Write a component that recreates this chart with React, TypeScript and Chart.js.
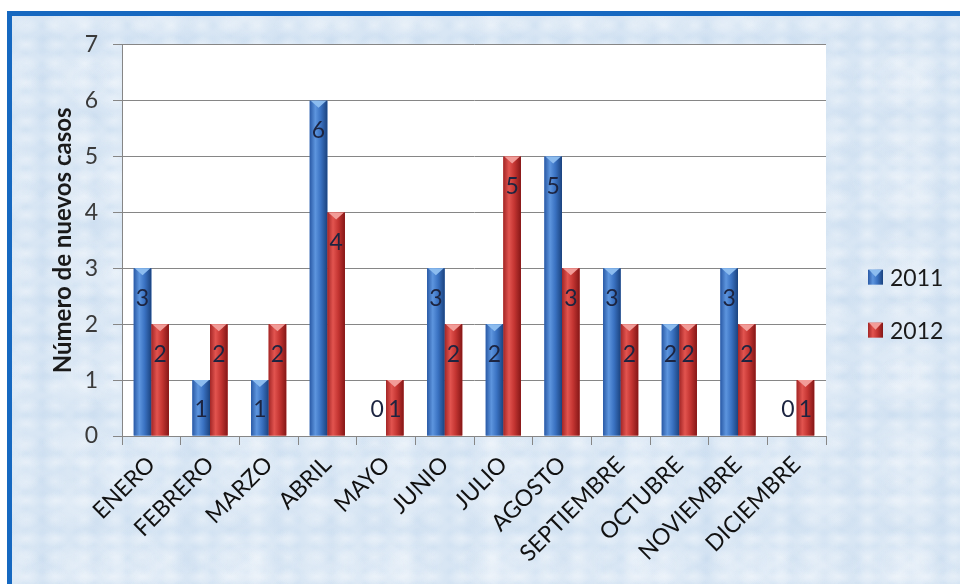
import React, { useEffect, useRef } from 'react';
import { Chart, registerables } from 'chart.js';

Chart.register(...registerables);

const months = ['ENERO', 'FEBRERO', 'MARZO', 'ABRIL', 'MAYO', 'JUNIO', 'JULIO', 'AGOSTO', 'SEPTIEMBRE', 'OCTUBRE', 'NOVIEMBRE', 'DICIEMBRE'];
const cases2011 = [3, 1, 1, 6, 0, 3, 2, 5, 3, 2, 3, 0];
const cases2012 = [2, 2, 2, 4, 1, 2, 5, 3, 2, 2, 2, 1];
const seriesNames = ['2011', '2012'];
const yMin = 0;
const yMax = 7;
const yStep = 1;
const yTitle = 'Número de nuevos casos';

const palettes = [
  { stops: ['#2a5aa6', '#5d95de', '#3a72c2', '#1b437f'], notch: '#8cbcef', solid: '#3a72c2' },
  { stops: ['#a32626', '#e2544f', '#c43532', '#851717'], notch: '#f29c98', solid: '#c43532' },
];

const FONT = 'Lato, "Open Sans", sans-serif';

function paintBar(ctx: CanvasRenderingContext2D, left: number, right: number, top: number, bottom: number, p: typeof palettes[0]) {
  const w = right - left;
  const h = bottom - top;
  if (h <= 0 || w <= 0) return;
  const g = ctx.createLinearGradient(left, 0, right, 0);
  g.addColorStop(0, p.stops[0]);
  g.addColorStop(0.32, p.stops[1]);
  g.addColorStop(0.62, p.stops[2]);
  g.addColorStop(1, p.stops[3]);
  ctx.fillStyle = g;
  ctx.fillRect(left, top, w, h);
  const nh = Math.min(7, h);
  ctx.beginPath();
  ctx.moveTo(left + 1, top);
  ctx.lineTo(right - 1, top);
  ctx.lineTo((left + right) / 2, top + nh);
  ctx.closePath();
  ctx.fillStyle = p.notch;
  ctx.fill();
}

const plotBg = {
  id: 'plotBg',
  beforeDraw(chart: any) {
    const { ctx, chartArea: a } = chart;
    ctx.save();
    ctx.fillStyle = '#ffffff';
    ctx.fillRect(a.left, a.top, a.right - a.left, a.bottom - a.top);
    ctx.restore();
  },
};

const barsPlugin = {
  id: 'barsPlugin',
  afterDatasetsDraw(chart: any) {
    const { ctx } = chart;
    ctx.save();
    chart.data.datasets.forEach((ds: any, di: number) => {
      const meta = chart.getDatasetMeta(di);
      meta.data.forEach((el: any) => {
        const { x, y, base, width } = el.getProps(['x', 'y', 'base', 'width'], true);
        paintBar(ctx, x - width / 2, x + width / 2, y, base, palettes[di]);
      });
    });
    chart.data.datasets.forEach((ds: any, di: number) => {
      const meta = chart.getDatasetMeta(di);
      meta.data.forEach((el: any, i: number) => {
        const { x, y, base } = el.getProps(['x', 'y', 'base'], true);
        const ly = Math.min(y + 30, base - 26);
        ctx.font = `23px ${FONT}`;
        ctx.fillStyle = '#1c2440';
        ctx.textAlign = 'center';
        ctx.textBaseline = 'middle';
        ctx.fillText(String(ds.data[i]), x, ly);
      });
    });
    ctx.restore();
  },
};

const legendPlugin = {
  id: 'customLegend',
  afterDraw(chart: any) {
    const { ctx, chartArea: a } = chart;
    ctx.save();
    const h = a.bottom - a.top;
    chart.data.datasets.forEach((ds: any, di: number) => {
      const cy = a.top + h * 0.594 + di * 53;
      const mx = a.right + 42;
      paintBar(ctx, mx, mx + 15, cy - 7.5, cy + 7.5, palettes[di]);
      ctx.font = `23px ${FONT}`;
      ctx.fillStyle = '#1a1a1a';
      ctx.textAlign = 'left';
      ctx.textBaseline = 'middle';
      ctx.fillText(ds.label, mx + 22, cy + 1);
    });
    ctx.restore();
  },
};

export default function App() {
  const ref = useRef<HTMLCanvasElement | null>(null);
  useEffect(() => {
    if (!ref.current) return;
    const chart = new Chart(ref.current, {
      type: 'bar',
      data: {
        labels: months,
        datasets: [
          { label: seriesNames[0], data: cases2011, backgroundColor: palettes[0].solid, categoryPercentage: 0.6, barPercentage: 1.0 },
          { label: seriesNames[1], data: cases2012, backgroundColor: palettes[1].solid, categoryPercentage: 0.6, barPercentage: 1.0 },
        ],
      },
      options: {
        animation: false,
        responsive: false,
        devicePixelRatio: 1,
        layout: { padding: { left: 0, right: 134, top: 27, bottom: 0 } },
        plugins: { legend: { display: false }, tooltip: { enabled: false } },
        scales: {
          x: {
            type: 'category',
            offset: true,
            grid: { drawOnChartArea: false, offset: true, tickLength: 9, color: '#868686', lineWidth: 1 },
            border: { color: '#868686' },
            ticks: { maxRotation: 45, minRotation: 45, autoSkip: false, font: { family: FONT, size: 23 }, color: '#111111', padding: 6 },
            afterFit: (s: any) => { s.height = 148; },
          },
          y: {
            min: yMin,
            max: yMax,
            ticks: { stepSize: yStep, font: { family: FONT, size: 23 }, color: '#3a3a3a', padding: 15 },
            grid: { color: '#868686', tickLength: 9, lineWidth: 1 },
            border: { color: '#868686' },
            title: { display: true, text: yTitle, font: { family: FONT, size: 24, weight: 'bold' }, color: '#1a1a1a', padding: { top: 37, bottom: 0 } },
            afterFit: (s: any) => { s.width = 110; },
          },
        },
      },
      plugins: [plotBg, barsPlugin, legendPlugin],
    });
    return () => chart.destroy();
  }, []);

  const texture = [
    'radial-gradient(ellipse at center, rgba(255,255,255,0.35) 0%, rgba(255,255,255,0) 65%)',
    'radial-gradient(ellipse at center, rgba(178,204,232,0.22) 0%, rgba(178,204,232,0) 65%)',
    'radial-gradient(ellipse at center, rgba(255,255,255,0.28) 0%, rgba(255,255,255,0) 60%)',
    'radial-gradient(ellipse at center, rgba(188,212,236,0.2) 0%, rgba(188,212,236,0) 60%)',
    'radial-gradient(ellipse at center, rgba(250,252,255,0.3) 0%, rgba(250,252,255,0) 60%)',
  ].join(',');

  return (
    <div style={{ position: 'fixed', left: 0, top: 0, width: 960, height: 584, background: '#ffffff', overflow: 'hidden' }}>
      <div
        style={{
          position: 'absolute',
          left: 7,
          top: 11,
          width: 953,
          height: 573,
          boxSizing: 'border-box',
          borderTop: '5px solid #1668c0',
          borderLeft: '5px solid #1668c0',
          backgroundColor: '#d8e6f4',
          backgroundImage: texture,
          backgroundSize: '29px 19px, 47px 37px, 83px 61px, 17px 13px, 131px 97px',
          backgroundPosition: '0 0, 11px 7px, 23px 31px, 5px 3px, 41px 17px',
        }}
      >
        <canvas ref={ref} width={948} height={568} style={{ position: 'absolute', left: 0, top: 0, width: 948, height: 568 }} />
      </div>
    </div>
  );
}
